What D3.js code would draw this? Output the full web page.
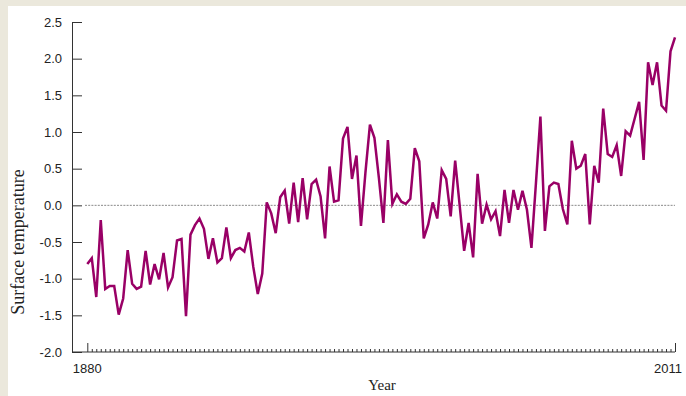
<!DOCTYPE html>
<html>
<head>
<meta charset="utf-8">
<script src="https://cdn.jsdelivr.net/npm/d3@7/dist/d3.min.js"></script>
<style>
  html, body { margin: 0; padding: 0; background: #ebe8dc; }
  svg { display: block; }
</style>
</head>
<body>
<script>
const firstYear = 1880;
const lastYear = 2011;
const temperature = [
  -0.80, -0.72, -1.25, -0.20, -1.14, -1.10, -1.10, -1.49, -1.27, -0.61,
  -1.07, -1.14, -1.11, -0.62, -1.08, -0.80, -1.01, -0.65, -1.12, -0.98,
  -0.48, -0.46, -1.51, -0.40, -0.27, -0.18, -0.32, -0.73, -0.45, -0.78,
  -0.72, -0.30, -0.72, -0.61, -0.58, -0.63, -0.37, -0.84, -1.21, -0.93,
   0.04, -0.11, -0.38, 0.11, 0.20, -0.25, 0.31, -0.23, 0.37, -0.19,
   0.29, 0.35, 0.12, -0.45, 0.53, 0.05, 0.07, 0.91, 1.07, 0.36,
   0.68, -0.28, 0.45, 1.10, 0.92, 0.37, -0.24, 0.89, 0.02, 0.15,
   0.05, 0.02, 0.09, 0.78, 0.60, -0.45, -0.26, 0.04, -0.18, 0.48,
   0.36, -0.15, 0.61, 0.00, -0.62, -0.24, -0.71, 0.43, -0.25, 0.01,
  -0.19, -0.08, -0.42, 0.21, -0.24, 0.21, -0.06, 0.20, -0.06, -0.58,
   0.30, 1.21, -0.35, 0.26, 0.31, 0.29, -0.05, -0.26, 0.88, 0.50,
   0.54, 0.70, -0.26, 0.54, 0.31, 1.32, 0.70, 0.66, 0.82, 0.40,
   1.01, 0.95, 1.18, 1.41, 0.62, 1.95, 1.64, 1.95, 1.36, 1.29,
   2.10, 2.29
];
const years = d3.range(firstYear, lastYear + 1);
const yTicks = [-2.0, -1.5, -1.0, -0.5, 0.0, 0.5, 1.0, 1.5, 2.0, 2.5];
const xLabels = [1880, 2011];
const yTitle = "Surface temperature";
const xTitle = "Year";

const W = 686, H = 396;
const svg = d3.select("body").append("svg").attr("width", W).attr("height", H);

// white panel
svg.append("rect").attr("x", 8).attr("y", 6).attr("width", W - 8).attr("height", H - 6).attr("fill", "#ffffff");

const x = d3.scaleLinear().domain([firstYear, lastYear]).range([87.3, 675]);
const y = d3.scaleLinear().domain([-2.0, 2.5]).range([352, 22]);
const axisColor = "#333";

// zero reference line
svg.append("line")
  .attr("x1", 85).attr("x2", x(lastYear))
  .attr("y1", y(0)).attr("y2", y(0))
  .attr("stroke", "#8a8a8a").attr("stroke-width", 1)
  .attr("stroke-dasharray", "2,1.2");

// y axis
const yAxis = d3.axisLeft(y)
  .tickValues(yTicks)
  .tickFormat(d => d.toFixed(1))
  .tickSizeInner(-10)
  .tickSizeOuter(0)
  .tickPadding(10);
const gy = svg.append("g").attr("transform", "translate(72,0)").call(yAxis);
gy.selectAll("path, line").attr("stroke", axisColor);
gy.selectAll("text")
  .attr("font-family", "'Liberation Sans', Arial, sans-serif")
  .attr("font-size", 13)
  .attr("fill", "#222");

// x axis baseline
svg.append("line")
  .attr("x1", 72).attr("x2", x(lastYear))
  .attr("y1", 352).attr("y2", 352)
  .attr("stroke", axisColor).attr("stroke-width", 1);

// minor year ticks
const xAxis = d3.axisBottom(x)
  .tickValues(years)
  .tickSizeInner(-3)
  .tickSizeOuter(0)
  .tickFormat("");
const gx = svg.append("g").attr("transform", "translate(0,352)").call(xAxis);
gx.select(".domain").remove();
gx.selectAll("line").attr("stroke", axisColor);
gx.selectAll(".tick").filter(d => xLabels.includes(d)).select("line").attr("y2", -9);

// x labels
svg.selectAll("text.xlab").data(xLabels).enter().append("text")
  .attr("class", "xlab")
  .attr("x", d => d === lastYear ? 682 : x(d))
  .attr("y", 373)
  .attr("text-anchor", d => d === lastYear ? "end" : "middle")
  .attr("font-family", "'Liberation Sans', Arial, sans-serif")
  .attr("font-size", 13)
  .attr("fill", "#222")
  .text(d => d);

// line
const line = d3.line()
  .x((d, i) => x(years[i]))
  .y(d => y(d));
svg.append("path")
  .datum(temperature)
  .attr("d", line)
  .attr("fill", "none")
  .attr("stroke", "#990066")
  .attr("stroke-width", 2.5)
  .attr("stroke-linejoin", "miter");

// titles
svg.append("text")
  .attr("transform", "translate(24,242) rotate(-90)")
  .attr("text-anchor", "middle")
  .attr("font-family", "'Liberation Serif', 'Times New Roman', serif")
  .attr("font-size", 18)
  .attr("fill", "#222")
  .text(yTitle);

svg.append("text")
  .attr("x", 382).attr("y", 390)
  .attr("text-anchor", "middle")
  .attr("font-family", "'Liberation Serif', 'Times New Roman', serif")
  .attr("font-size", 15)
  .attr("fill", "#222")
  .text(xTitle);
</script>
</body>
</html>
